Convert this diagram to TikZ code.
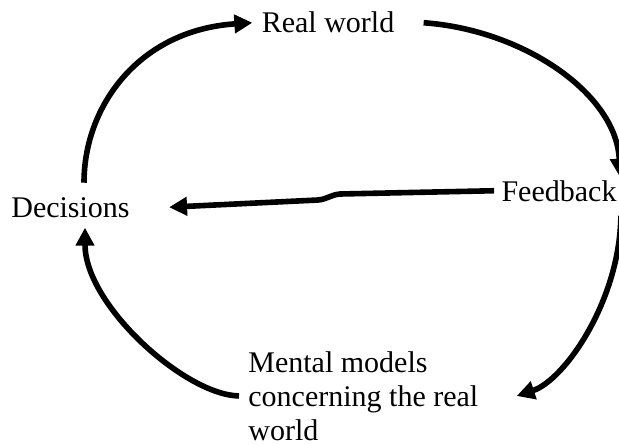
\documentclass[tikz,border=0pt]{standalone}
\usepackage{fontspec}
\setmainfont{Liberation Serif}
\usepackage{tikz}
\usetikzlibrary{arrows.meta, positioning, calc}

\begin{document}
\begin{tikzpicture}[
    x=0.5pt, y=-0.5pt,
    lbl/.style = {inner sep=0pt, font=\fontsize{15}{17}\selectfont},
    arr/.style = {-{Triangle[length=9pt, width=9pt]}, line width=2.8pt}
  ]
  \useasboundingbox (0,0) rectangle (619,444);

  %% Labels
  \node[lbl, anchor=base] (rw)  at (328,33)  {Real world};
  \node[lbl, anchor=base] (fb)  at (559,201) {Feedback};
  \node[lbl, anchor=base] (dec) at (70.5,217) {Decisions};
  \node[lbl, anchor=north west, align=left] (mm) at (248,351)
       {Mental models\\concerning the real\\world};

  %% Loop
  \draw[arr] ([shift={(13.5,-14)}]dec.north)
       .. controls (84,105) and (140,30) .. ([shift={(-9,0)}]rw.west);
  \draw[arr] ([shift={(29,0)}]rw.east)
       .. controls (525,30) and (617,95) .. ([shift={(3,-3)}]fb.north east);
  \draw[arr] ([shift={(4,14)}]fb.south east)
       .. controls (620,300) and (565,380) .. ([shift={(38,0)}]mm.east);
  \draw[arr] ([shift={(-9,0)}]mm.west)
       .. controls (185,395) and (85,305) .. ([shift={(14.5,10)}]dec.south);

  %% Feedback path
  \draw[arr] ([shift={(-7,0)}]fb.west) -- (340,194)
       .. controls (330,195) and (328,199) .. (318,200)
       -- ([shift={(39,0)}]dec.east);

\end{tikzpicture}
\end{document}
